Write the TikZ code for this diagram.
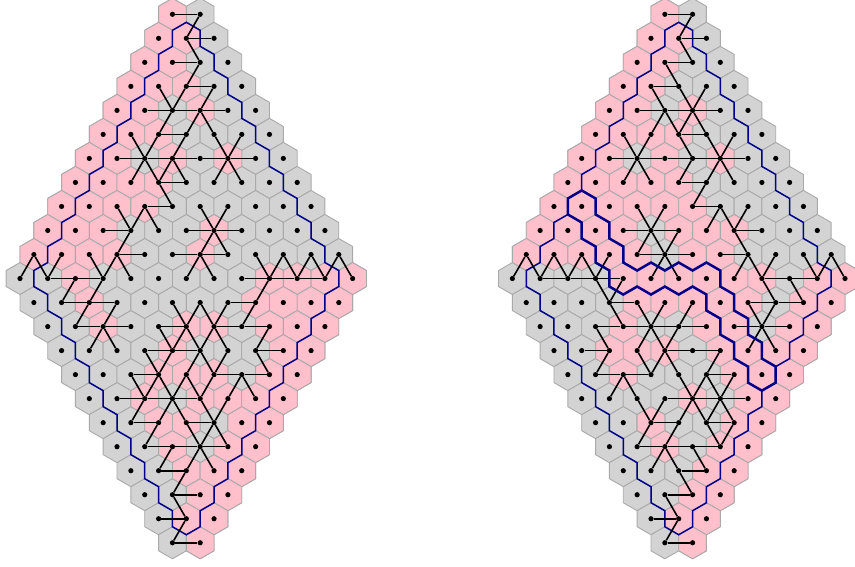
\documentclass[tikz,border=0pt]{standalone}
\usepackage{tikz}

\definecolor{cellpink}{RGB}{255,192,203}
\definecolor{cellgray}{RGB}{211,211,211}
\definecolor{celledge}{RGB}{169,169,169}
\definecolor{loopblue}{RGB}{0,0,139}

\tikzset{
  hexcell/.style={draw=celledge, line width=0.9pt, line join=round},
  celldot/.style={circle, fill=black, inner sep=0pt, minimum size=5.2pt},
  linkline/.style={black, line width=1.6pt},
  thinloop/.style={loopblue, line width=1.5pt, line join=miter},
  thickloop/.style={loopblue, line width=2.5pt, line join=miter}
}

\newcommand{\hexpath}[2]{(#1,{3*#2-2}) -- ({#1-1},{3*#2-1}) -- ({#1-1},{3*#2+1})
  -- (#1,{3*#2+2}) -- ({#1+1},{3*#2+1}) -- ({#1+1},{3*#2-1}) -- cycle}

\newcommand{\leftpink}{0/{11},1/{10,12},2/{9,11},3/{8,10,12},4/{7,9,13},5/{6,8,10},
  6/{5,7,11,15},7/{4,6,8,10},8/{3,5,7,9},9/{2,4,6,14},10/{1,3,5,7,13},
  11/{4,18,20,22,24},12/{5,17,19,21,23},13/{6,12,14,18,20,22},14/{11,19,21},
  15/{10,12,14,18,20},16/{9,13,15,17,19},17/{10,12,16,18},18/{11,15,17},
  19/{12,14,16},20/{13,15},21/{12,14},22/{13}}

\newcommand{\rightpink}{0/{11},1/{10,12},2/{9,11},3/{8,10},4/{7,9,13},5/{6,8,10,12},
  6/{5,7,11,15},7/{4,6,8,10,12},8/{3,5,7,9,11,13},9/{2,4,6,8,12,14,16},
  10/{1,3,5,7,9,13,15},11/{8,10,12,14,16,18,22,24},12/{9,11,13,15,17,21,23},
  13/{8,14,16,20,22},14/{7,9,11,15,17,19,21},15/{8,16,18,20},16/{13,17,19},
  17/{10,16,18},18/{11,15,17},19/{14,16},20/{13,15},21/{12,14},22/{13}}

\newcommand{\leftlinks}{0/11/0/13,0/13/1/12,1/12/1/14,1/12/2/13,2/11/2/13,2/13/3/12,
  3/12/3/14,3/10/4/11,3/12/4/11,3/14/4/13,4/9/4/11,4/11/4/13,4/13/4/15,4/11/5/10,
  4/13/5/12,4/13/5/14,5/10/5/12,5/8/6/9,5/10/6/9,5/12/6/11,5/14/6/15,5/16/6/15,
  6/7/6/9,6/9/6/11,6/11/6/13,6/13/6/15,6/15/6/17,6/9/7/8,6/9/7/10,6/11/7/10,
  6/11/7/12,6/15/7/14,6/15/7/16,7/10/7/12,7/10/8/11,8/9/8/11,8/7/9/8,8/9/9/8,
  8/9/9/10,8/13/9/14,8/15/9/14,9/6/9/8,9/8/10/7,9/12/9/14,9/14/9/16,9/14/10/13,
  9/14/10/15,10/7/10/9,10/11/10/13,10/13/10/15,10/1/11/0,10/1/11/2,10/3/11/2,
  10/5/11/6,10/7/11/6,10/7/11/8,10/13/11/12,10/13/11/14,10/17/11/18,10/19/11/18,
  10/19/11/20,10/21/11/20,10/21/11/22,10/23/11/22,10/23/11/24,11/2/11/4,11/4/11/6,
  11/16/11/18,11/18/11/20,11/20/11/22,11/4/12/3,11/6/12/5,11/18/12/17,12/3/12/5,
  12/5/12/7,12/15/12/17,12/5/13/4,12/7/13/6,12/11/13/12,12/13/13/12,12/13/13/14,
  12/15/13/14,12/17/13/16,13/4/13/6,13/6/13/8,13/10/13/12,13/14/13/16,
  13/16/13/18,13/6/14/5,13/6/14/7,13/10/14/11,13/12/14/11,13/12/14/13,13/14/14/13,
  13/14/14/15,13/18/14/17,14/9/14/11,14/11/14/13,14/17/14/19,14/9/15/10,
  14/11/15/10,14/13/15/12,14/13/15/14,14/15/15/14,14/17/15/18,15/8/15/10,15/14/15/16,
  15/16/15/18,15/8/16/9,15/10/16/9,15/10/16/11,15/12/16/11,15/12/16/13,15/14/16/13,
  15/16/16/15,15/16/16/17,16/7/16/9,16/9/16/11,16/11/16/13,16/9/17/8,16/11/17/10,
  16/11/17/12,16/13/17/14,16/15/17/14,17/8/17/10,17/12/17/14,17/10/18/9,17/12/18/13,
  17/14/18/13,17/14/18/15,18/9/18/11,18/11/18/13,18/13/18/15,18/11/19/10,18/13/19/12,
  18/13/19/14,19/10/19/12,19/12/20/11,20/11/20/13,20/11/21/12,21/10/21/12,21/12/22/11,
  22/11/22/13}

\newcommand{\rightlinks}{0/11/0/13,0/13/1/12,1/12/1/14,1/12/2/13,2/11/2/13,2/11/3/12,
  3/10/3/12,3/10/4/11,3/12/4/13,3/14/4/13,4/9/4/11,4/11/4/13,4/13/4/15,4/11/5/10,
  4/11/5/12,4/13/5/12,4/13/5/14,5/12/5/14,5/8/6/9,5/10/6/9,5/12/6/13,5/14/6/15,
  5/16/6/15,6/7/6/9,6/9/6/11,6/11/6/13,6/13/6/15,6/15/6/17,6/9/7/8,6/9/7/10,
  6/13/7/12,6/15/7/14,6/15/7/16,7/12/7/14,7/14/8/13,8/13/8/15,8/9/9/10,8/11/9/10,
  8/15/9/14,8/15/9/16,8/17/9/16,9/8/9/10,9/10/9/12,9/16/9/18,9/10/10/9,9/10/10/11,
  9/12/10/11,9/16/10/17,10/9/10/11,10/11/10/13,10/15/10/17,10/1/11/0,10/1/11/2,
  10/3/11/2,10/3/11/4,10/5/11/4,10/5/11/6,10/7/11/6,10/11/11/10,10/11/11/12,
  10/17/11/16,10/17/11/18,10/19/11/18,10/21/11/22,10/23/11/22,10/23/11/24,11/2/11/4,
  11/4/11/6,11/6/11/8,11/18/11/20,11/20/11/22,11/6/12/7,11/8/12/7,11/18/12/19,
  11/20/12/21,12/7/12/9,12/17/12/19,12/19/12/21,12/7/13/8,12/9/13/10,12/11/13/10,
  12/13/13/12,12/17/13/18,12/19/13/18,13/6/13/8,13/8/13/10,13/10/13/12,13/12/13/14,
  13/16/13/18,13/18/13/20,13/6/14/7,13/10/14/9,13/10/14/11,13/12/14/11,13/18/14/17,
  13/18/14/19,14/5/14/7,14/11/14/13,14/13/14/15,14/7/15/6,14/9/15/10,14/11/15/10,
  14/11/15/12,14/15/15/14,15/6/15/8,15/8/15/10,15/14/15/16,15/8/16/7,15/8/16/9,
  15/12/16/13,15/14/16/13,15/14/16/15,15/16/16/15,16/11/16/13,16/13/16/15,16/15/16/17,
  16/9/17/10,16/11/17/10,16/13/17/12,16/13/17/14,16/15/17/14,16/15/17/16,17/10/17/12,
  17/14/17/16,17/10/18/9,17/12/18/11,17/14/18/15,17/16/18/15,18/9/18/11,18/11/18/13,
  18/13/18/15,18/11/19/10,18/11/19/12,18/13/19/14,19/12/19/14,19/12/20/13,20/11/20/13,
  20/11/21/12,21/10/21/12,21/12/22/11,22/11/22/13}

\newcommand{\drawboard}[3]{
  \foreach \rw in {0,...,22} {
    \pgfmathtruncatemacro{\cfirst}{abs(\rw-11)}
    \pgfmathtruncatemacro{\cnext}{\cfirst+2}
    \pgfmathtruncatemacro{\clast}{24-\cfirst}
    \foreach \cl in {\cfirst,\cnext,...,\clast}
      \draw[hexcell, fill=cellgray] \hexpath{\cl}{\rw};
  }
  \foreach \rw/\cols in #2 {
    \foreach \cl in \cols
      \draw[hexcell, fill=cellpink] \hexpath{\cl}{\rw};
  }
  \draw[thinloop] (12,1)
    \foreach \i in {0,...,10} { -- ({11-\i},{2+3*\i}) -- ({11-\i},{4+3*\i}) }
    \foreach \i in {0,...,9} { -- ({2+\i},{35+3*\i}) -- ({2+\i},{37+3*\i}) }
    -- (12,65)
    \foreach \i in {0,...,9} { -- ({13+\i},{64-3*\i}) -- ({13+\i},{62-3*\i}) }
    -- (23,34) -- (23,32)
    \foreach \i in {0,...,9} { -- ({22-\i},{31-3*\i}) -- ({22-\i},{29-3*\i}) }
    -- cycle;
  \foreach \rw in {0,...,22} {
    \pgfmathtruncatemacro{\cfirst}{abs(\rw-11)}
    \pgfmathtruncatemacro{\cnext}{\cfirst+2}
    \pgfmathtruncatemacro{\clast}{24-\cfirst}
    \foreach \cl in {\cfirst,\cnext,...,\clast}
      \node[celldot] (#1-\rw-\cl) at ({\cl},{3*\rw}) {};
  }
  \foreach \ra/\ca/\rb/\cb in #3
    \draw[linkline] (#1-\ra-\ca) -- (#1-\rb-\cb);
}

\begin{document}
\begin{tikzpicture}[x=13.86pt, y=-8.007pt]
\clip (0pt,0pt) rectangle (855pt,-566pt);

\begin{scope}[shift={(20pt,-14.3pt)}]
  \drawboard{lb}{\leftpink}{\leftlinks}
\end{scope}

\begin{scope}[shift={(512.4pt,-14.3pt)}]
  \drawboard{rb}{\rightpink}{\rightlinks}
  \draw[thickloop] (5,22) -- (4,23) -- (4,25) -- (5,26) -- (5,28) -- (6,29) -- (6,31)
    -- (7,32) -- (7,34) -- (8,35) -- (9,34) -- (10,35) -- (11,34) -- (12,35) -- (13,34)
    -- (14,35) -- (14,37) -- (15,38) -- (15,40) -- (16,41) -- (16,43) -- (17,44)
    -- (17,46) -- (18,47) -- (19,46) -- (19,44) -- (18,43) -- (18,41) -- (17,40)
    -- (17,38) -- (16,37) -- (16,35) -- (15,34) -- (15,32) -- (14,31) -- (13,32)
    -- (12,31) -- (11,32) -- (10,31) -- (9,32) -- (8,31) -- (8,29) -- (7,28) -- (7,26)
    -- (6,25) -- (6,23) -- cycle;
\end{scope}
\end{tikzpicture}
\end{document}
